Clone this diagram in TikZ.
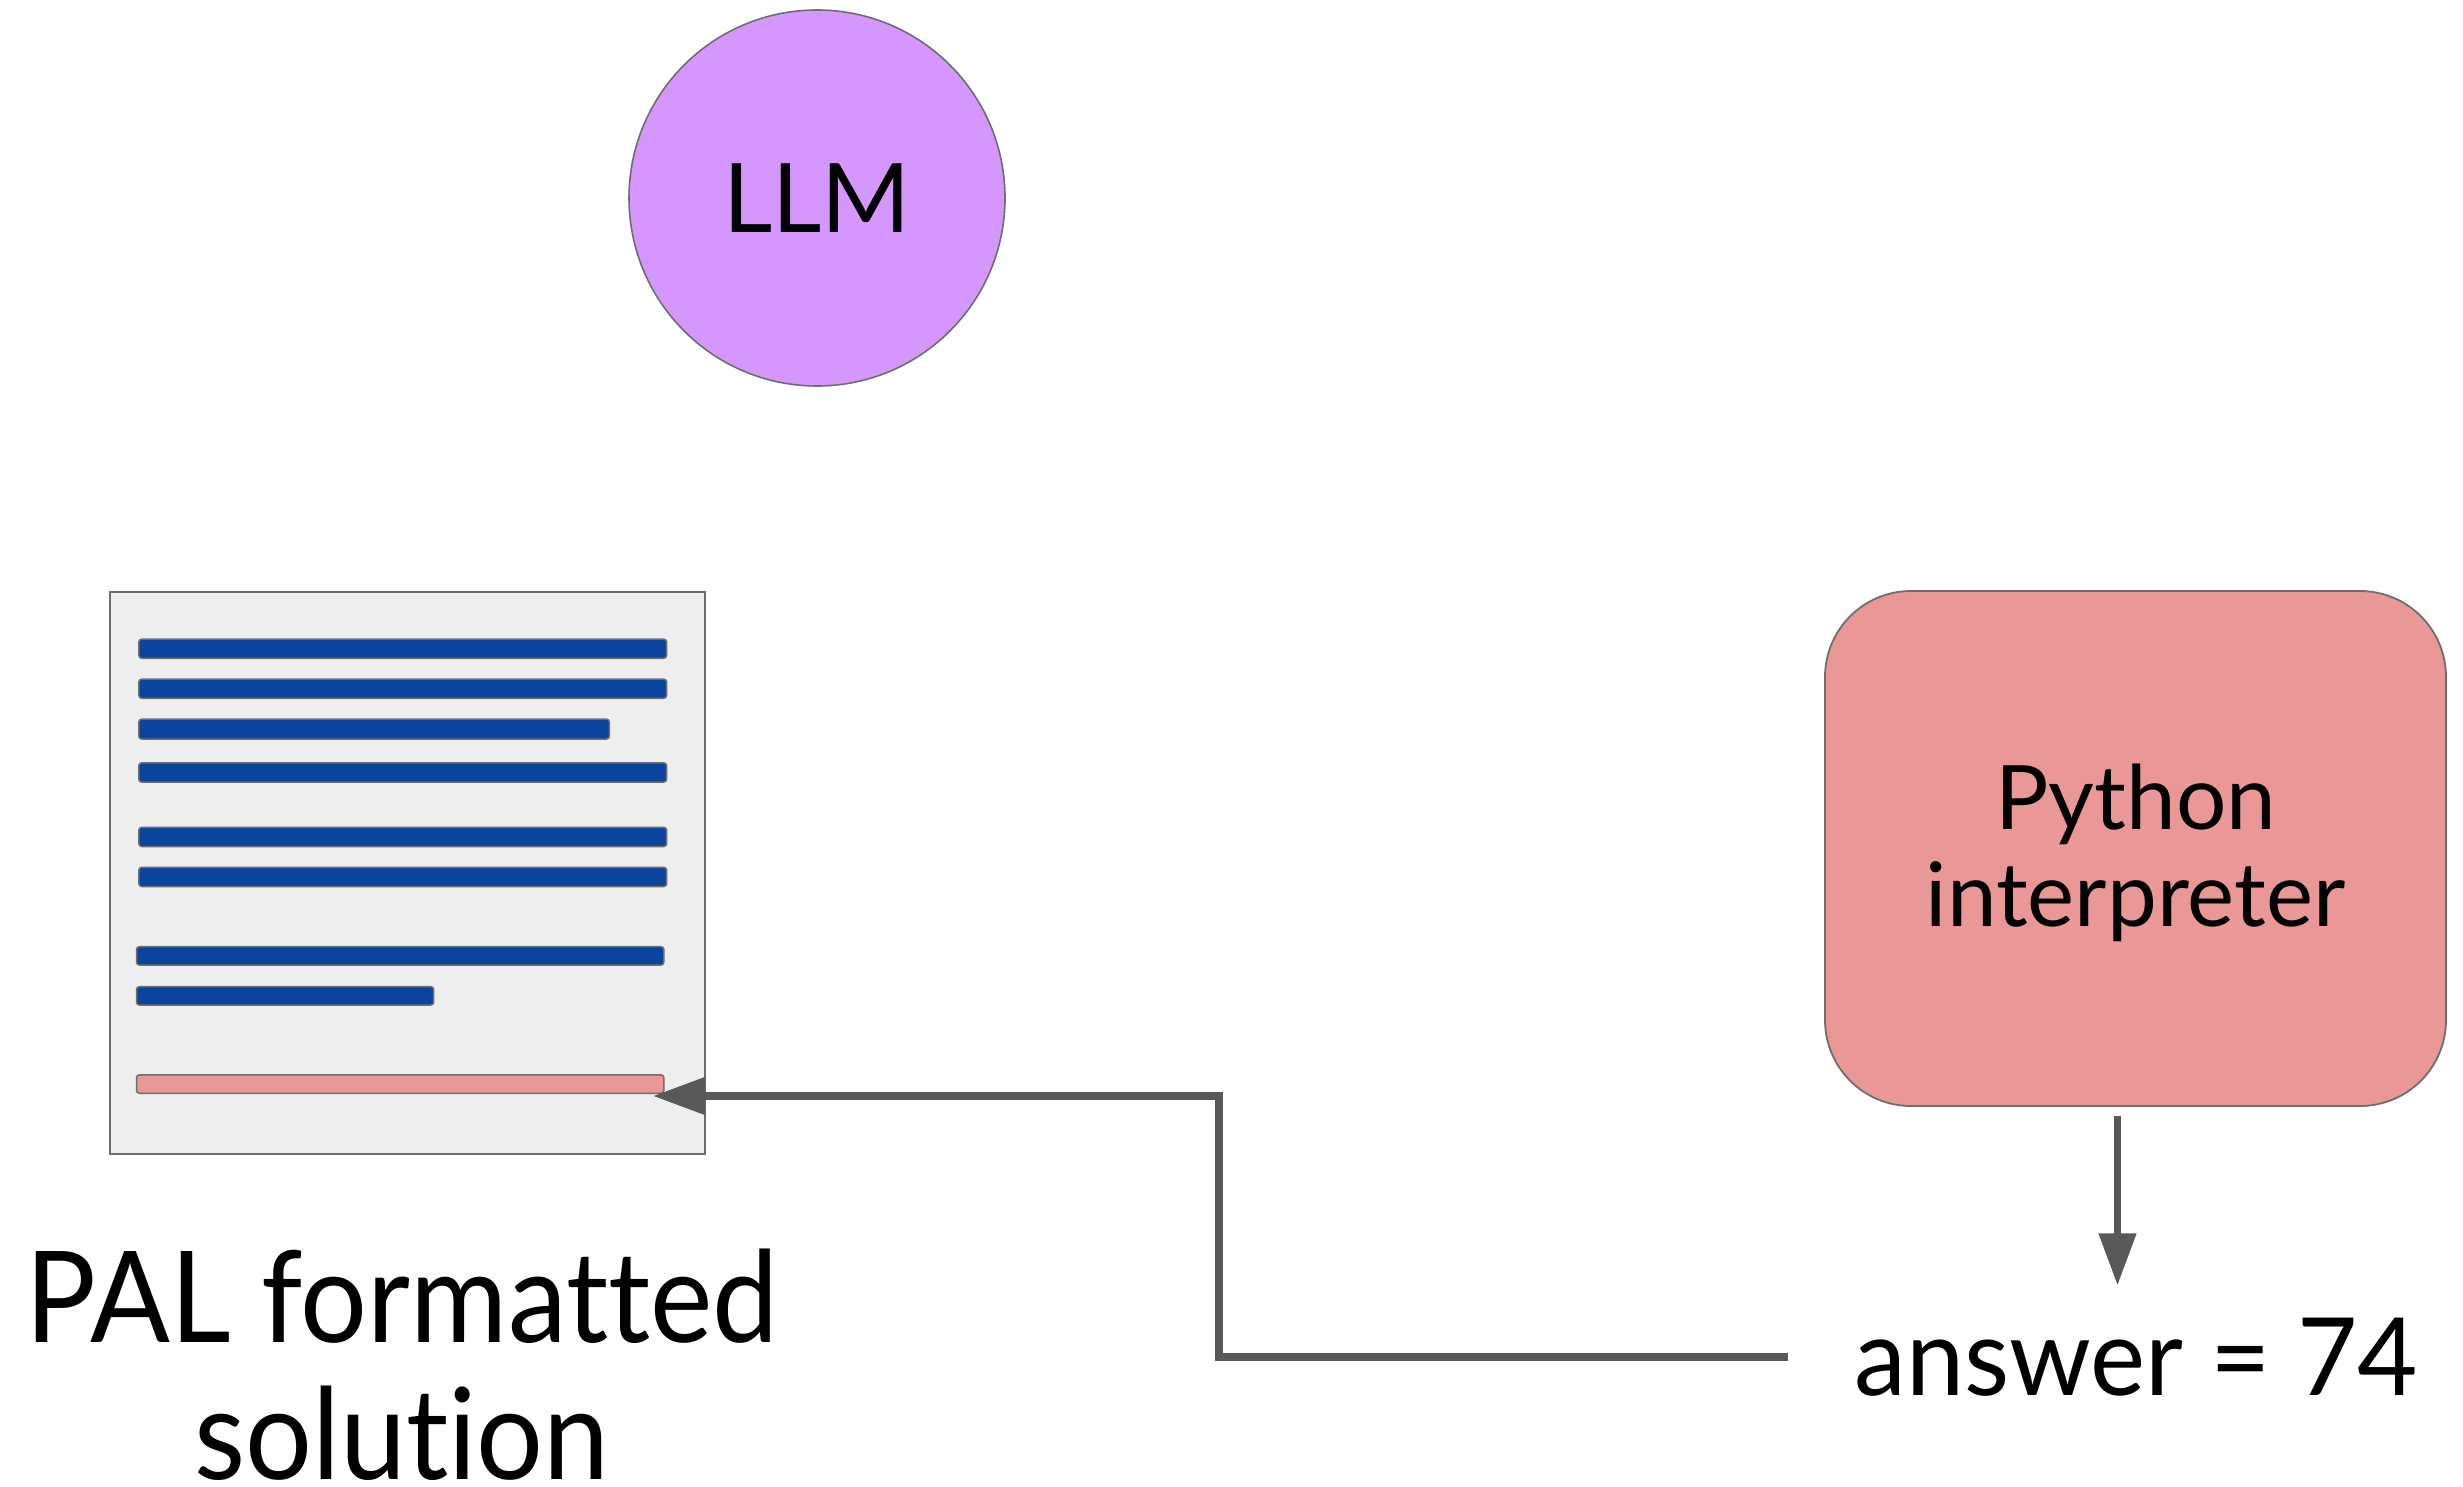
\documentclass[tikz,border=0pt]{standalone}
\usepackage{fontspec}
\setmainfont{Lato}[Ligatures={NoCommon,NoContextual}]
\newfontfamily\palfont{Lato}[Ligatures={NoCommon,NoContextual},FakeStretch=0.93]
\newfontfamily\ansfont{Lato}[Ligatures={NoCommon,NoContextual},FakeStretch=0.965]
\usetikzlibrary{arrows.meta}
\definecolor{llmfill}{HTML}{D597FD}
\definecolor{pyfill}{HTML}{E99797}
\definecolor{barblue}{HTML}{0B449E}
\definecolor{docfill}{HTML}{EEEEEE}
\definecolor{edge}{HTML}{6E6E6E}
\definecolor{arrowc}{HTML}{595959}
\begin{document}
\begin{tikzpicture}[x=1pt,y=-1pt,
  llmstyle/.style={circle, draw=edge, line width=1.6pt, fill=llmfill, minimum size=376pt, inner sep=0pt, font=\fontsize{96}{110}\selectfont},
  pystyle/.style={rectangle, rounded corners=86pt, draw=edge, line width=1.8pt, fill=pyfill, minimum width=621pt, minimum height=515pt, align=center, font=\fontsize{89}{97}\selectfont},
  docstyle/.style={rectangle, draw=edge, line width=2.2pt, fill=docfill, minimum width=595pt, minimum height=562pt, inner sep=0pt},
  barstyle/.style={draw=edge, line width=1.5pt, fill=barblue, rounded corners=3pt},
  pinkbar/.style={barstyle, fill=pyfill},
  labelstyle/.style={inner sep=0pt, align=center, font=\palfont\fontsize{127}{137}\selectfont},
  answerstyle/.style={inner sep=0pt, font=\ansfont\fontsize{108}{120}\selectfont},
  conn/.style={draw=arrowc, line width=7.5pt, -{Triangle[length=52pt,width=36pt]}}
]
\useasboundingbox (0,0) rectangle (2463,1487);

\node[llmstyle] (llm) at (817,198) {LLM};

\node[docstyle] (doc) at (407.5,873) {};
\path[barstyle] (138.8,639.1) rectangle (666.7,658.3);
\path[barstyle] (138.8,679.1) rectangle (666.7,698.3);
\path[barstyle] (138.8,719.1) rectangle (609.4,739.1);
\path[barstyle] (138.8,762.8) rectangle (666.7,782.1);
\path[barstyle] (138.8,827.3) rectangle (666.7,846.5);
\path[barstyle] (138.8,867.3) rectangle (666.7,886.5);
\path[barstyle] (136.5,946.6) rectangle (663.9,965.1);
\path[barstyle] (136.5,986.6) rectangle (433.7,1005.1);
\path[pinkbar] (136.5,1074.8) rectangle (663.9,1093.3);

\node[labelstyle, anchor=north] (pal) at (402,1249) {PAL formatted\\solution};

\node[pystyle] (python) at (2135.5,848.5) {\rule{0pt}{74pt}Python\\interpreter};

\node[answerstyle, anchor=base west] (answer) at (1854,1395) {answer = 74};

\coordinate (pyout) at ([xshift=-18pt,yshift=-9pt]python.south);
\coordinate (ansin) at ([yshift=32pt]answer.north);
\draw[conn] (pyout) -- (pyout |- ansin);

\coordinate (ansout) at ([xshift=-66pt]answer.west);
\coordinate (tip) at (653,1096);
\draw[conn] (ansout) -- ++(-569,0) |- (tip);
\end{tikzpicture}
\end{document}
